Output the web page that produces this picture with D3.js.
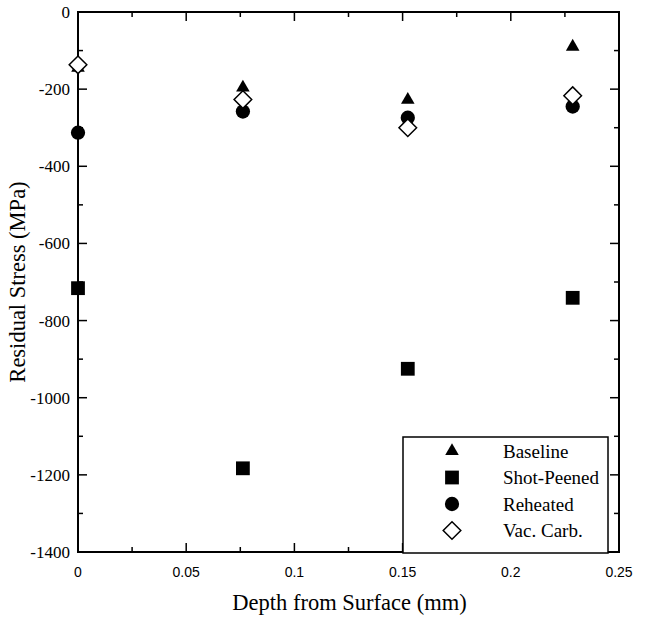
<!DOCTYPE html>
<html>
<head>
<meta charset="utf-8">
<script src="https://cdn.jsdelivr.net/npm/d3@7"></script>
<style>
  body { margin: 0; background: #fff; }
  svg { display: block; }
</style>
</head>
<body>
<div id="chart"></div>
<script>
'use strict';
// residual stress vs depth, four surface treatments

var depths = [0, 0.0762, 0.1524, 0.2286];
var baseline = [-145, -196, -228, -90];
var shotPeened = [-716, -1183, -925, -741];
var reheated = [-313, -258, -274, -245];
var vacCarb = [-137, -227, -300, -217];

var seriesNames = ["Baseline", "Shot-Peened", "Reheated", "Vac. Carb."];
var xTicks = [0, 0.05, 0.1, 0.15, 0.2, 0.25];
var yTicks = [0, -200, -400, -600, -800, -1000, -1200, -1400];

var SERIF = "'Liberation Serif', 'Times New Roman', serif";
var SANS = "'Liberation Sans', Arial, sans-serif";

// diamond = square turned 45 degrees
var symbolRotSquare = {
    draw: function(context, size) {
        var r = Math.sqrt(size) / Math.SQRT2;
        context.moveTo(0, -r);
        context.lineTo(r, 0);
        context.lineTo(0, r);
        context.lineTo(-r, 0);
        context.closePath();
    }
};

var series = [
    {name: seriesNames[0], values: baseline, symbol: d3.symbolTriangle, size: 80, fill: "#000"},
    {name: seriesNames[1], values: shotPeened, symbol: d3.symbolSquare, size: 190, fill: "#000"},
    {name: seriesNames[2], values: reheated, symbol: d3.symbolCircle, size: 160, fill: "#000"},
    {name: seriesNames[3], values: vacCarb, symbol: symbolRotSquare, size: 155, fill: "#fff"}
];

var width = 646, height = 618;
var margin = {top: 12, right: 27, bottom: 66, left: 78};
var w = width - margin.left - margin.right;
var h = height - margin.top - margin.bottom;

var svg = d3.select("#chart").append("svg")
    .attr("width", width)
    .attr("height", height);
var g = svg.append("g").attr("transform", "translate(" + margin.left + "," + margin.top + ")");

var x = d3.scaleLinear().domain([0, 0.25]).range([0, w]);
var y = d3.scaleLinear().domain([-1400, 0]).range([h, 0]);

var minorX = d3.range(0, 0.2501, 0.025);
var minorY = d3.range(-1400, 1, 100);

// ticks inside, on all four sides
function tickLen(isMajor) { return isMajor ? 9 : 5; }

minorX.forEach(function(v) {
    var major = Math.abs(v / 0.05 - Math.round(v / 0.05)) < 1e-6;
    var L = tickLen(major);
    g.append("line").attr("x1", x(v)).attr("x2", x(v)).attr("y1", h).attr("y2", h - L)
        .attr("stroke", "#000").attr("stroke-width", 1.5);
    g.append("line").attr("x1", x(v)).attr("x2", x(v)).attr("y1", 0).attr("y2", L)
        .attr("stroke", "#000").attr("stroke-width", 1.5);
});
minorY.forEach(function(v) {
    var major = v % 200 === 0;
    var L = tickLen(major);
    g.append("line").attr("x1", 0).attr("x2", L).attr("y1", y(v)).attr("y2", y(v))
        .attr("stroke", "#000").attr("stroke-width", 1.5);
    g.append("line").attr("x1", w).attr("x2", w - L).attr("y1", y(v)).attr("y2", y(v))
        .attr("stroke", "#000").attr("stroke-width", 1.5);
});

g.append("rect")
    .attr("x", 0).attr("y", 0).attr("width", w).attr("height", h)
    .attr("fill", "none").attr("stroke", "#000").attr("stroke-width", 2);

// tick labels
g.selectAll(".xlab").data(xTicks).enter().append("text")
    .attr("x", function(d) { return x(d); })
    .attr("y", h + 25)
    .attr("text-anchor", "middle")
    .style("font-family", SANS)
    .style("font-size", "14px")
    .text(function(d) { return d; });

g.selectAll(".ylab").data(yTicks).enter().append("text")
    .attr("x", -8)
    .attr("y", function(d) { return y(d); })
    .attr("dy", "0.35em")
    .attr("text-anchor", "end")
    .style("font-family", SERIF)
    .style("font-size", "17px")
    .text(function(d) { return d; });

// axis titles
svg.append("text")
    .attr("x", margin.left + w / 2 + 1)
    .attr("y", 610)
    .attr("text-anchor", "middle")
    .style("font-family", SERIF)
    .style("font-size", "22.5px")
    .text("Depth from Surface (mm)");

svg.append("text")
    .attr("transform", "translate(25," + (margin.top + h / 2) + ") rotate(-90)")
    .attr("text-anchor", "middle")
    .style("font-family", SERIF)
    .style("font-size", "22.5px")
    .text("Residual Stress (MPa)");

// points
series.forEach(function(s) {
    var sym = d3.symbol().type(s.symbol).size(s.size);
    g.append("g").selectAll("path")
        .data(s.values)
        .enter().append("path")
        .attr("transform", function(d, i) { return "translate(" + x(depths[i]) + "," + y(d) + ")"; })
        .attr("d", sym)
        .attr("fill", s.fill)
        .attr("stroke", "#000")
        .attr("stroke-width", s.fill === "#fff" ? 1.5 : 0);
});

// legend
var lg = svg.append("g").attr("transform", "translate(403,437)");
lg.append("rect")
    .attr("width", 205).attr("height", 116)
    .attr("fill", "#fff").attr("stroke", "#000").attr("stroke-width", 1.5);
series.forEach(function(s, i) {
    var yy = 14 + i * 26.5;
    lg.append("path")
        .attr("transform", "translate(49," + yy + ")")
        .attr("d", d3.symbol().type(s.symbol).size(s.size)())
        .attr("fill", s.fill)
        .attr("stroke", "#000")
        .attr("stroke-width", s.fill === "#fff" ? 1.5 : 0);
    lg.append("text")
        .attr("x", 100).attr("y", yy).attr("dy", "0.35em")
        .style("font-family", SERIF)
        .style("font-size", "19px")
        .text(s.name);
});
</script>
</body>
</html>
